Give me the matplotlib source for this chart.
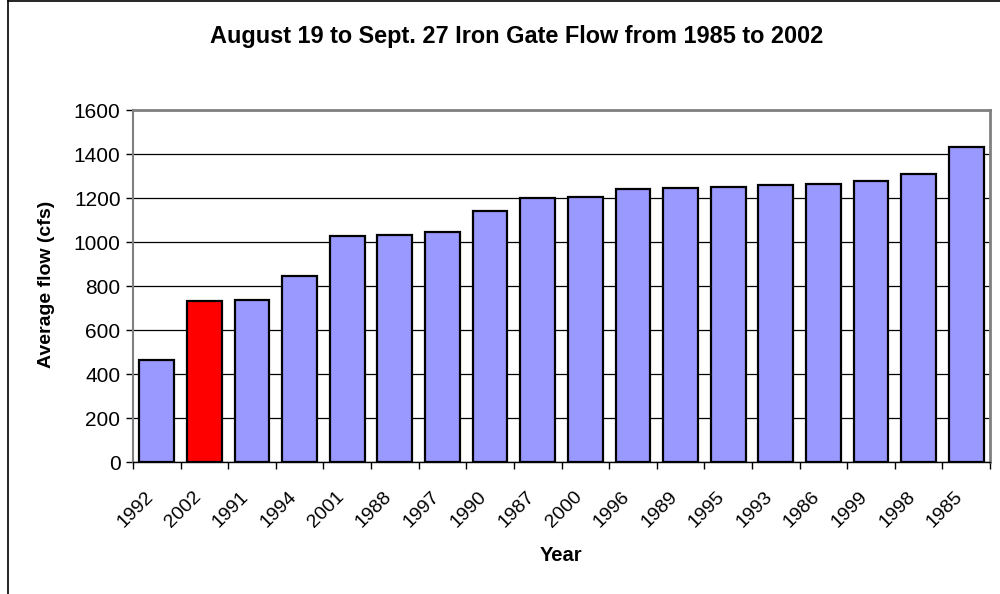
import numpy as np
import matplotlib.pyplot as plt
import matplotlib.transforms as mtransforms
from matplotlib.lines import Line2D

plt.rcParams['font.family'] = ['Liberation Sans', 'DejaVu Sans']

# Years sorted by average flow
years = ["1992", "2002", "1991", "1994", "2001", "1988", "1997", "1990", "1987",
         "2000", "1996", "1989", "1995", "1993", "1986", "1999", "1998", "1985"]
flow = [465, 731, 735, 846, 1028, 1034, 1046, 1140, 1202,
        1205, 1241, 1244, 1252, 1259, 1262, 1279, 1308, 1431]
highlight = "2002"

colors = ["#FF0000" if y == highlight else "#9999FF" for y in years]

fig = plt.figure(figsize=(10, 5.94), dpi=100)
ax = fig.add_axes([0.133, 0.2222, 0.857, 0.5926])

x = np.arange(len(years))
ax.bar(x, flow, width=0.73, color=colors, edgecolor="black", linewidth=1.6, zorder=3)

ax.set_xlim(-0.5, len(years) - 0.5)
ax.set_ylim(0, 1600)
ax.set_yticks(np.arange(0, 1601, 200))
ax.yaxis.grid(True, color="black", linewidth=0.9, zorder=0)

# ticks between categories
ax.set_xticks(np.arange(-0.5, len(years), 1.0))
ax.set_xticklabels([])
ax.set_xticks(x, minor=True)
ax.set_xticklabels(years, minor=True, rotation=45, ha="right", va="center",
                   rotation_mode="anchor", fontsize=14)
ax.tick_params(axis="x", which="minor", length=0, pad=23)
ax.tick_params(axis="x", which="major", length=5, width=1, direction="out")
ax.tick_params(axis="y", length=5, width=1, labelsize=15, pad=4)

offset = mtransforms.ScaledTranslation(-6 / 100, 0, fig.dpi_scale_trans)
for lbl in ax.get_xticklabels(minor=True):
    lbl.set_transform(lbl.get_transform() + offset)

for s in ["top", "right"]:
    ax.spines[s].set_color("#808080")
    ax.spines[s].set_linewidth(2)
ax.spines["left"].set_color("#808080")
ax.spines["left"].set_linewidth(1.5)
ax.spines["bottom"].set_color("black")
ax.spines["bottom"].set_linewidth(1)

fig.text(0.047, 0.522, "Average flow (cfs)", fontsize=14, fontweight="bold",
         rotation=90, ha="center", va="center")
fig.text(0.5615, 0.064, "Year", fontsize=14.5, fontweight="bold", ha="center", va="center")
fig.text(0.517, 0.938, "August 19 to Sept. 27 Iron Gate Flow from 1985 to 2002",
         fontsize=16.9, fontweight="bold", ha="center", va="center")

# outer chart border (cut at right/bottom edge)
fig.add_artist(Line2D([0.008, 0.008], [0, 0.999], color="black", linewidth=1.2,
                      transform=fig.transFigure))
fig.add_artist(Line2D([0.008, 1], [0.999, 0.999], color="black", linewidth=1.2,
                      transform=fig.transFigure))

fig.savefig("out.png", dpi=100)
